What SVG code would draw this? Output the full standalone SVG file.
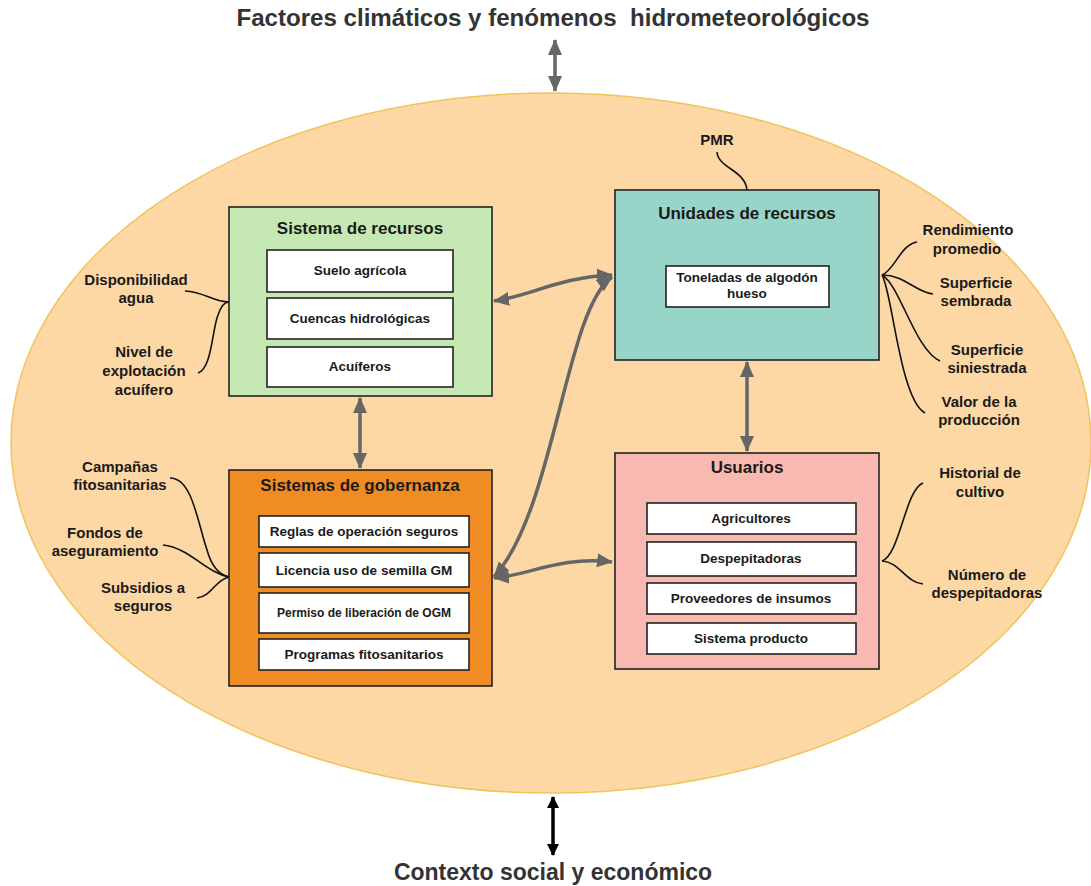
<svg xmlns="http://www.w3.org/2000/svg" width="1091" height="886" viewBox="0 0 1091 886">
<style>
text{font-family:"Liberation Sans",Arial,sans-serif;font-weight:bold;text-anchor:middle;fill:#1a1a1a}
.big{font-size:23px;fill:#333}
.ttl{font-size:17px}
.lbl{font-size:15px}
.it{font-size:13.5px}
.box{stroke:#222;stroke-width:1.6}
.in{fill:#fff;stroke:#222;stroke-width:1.6}
.lead{fill:none;stroke:#111;stroke-width:1.6}
.con{fill:none;stroke:#666;stroke-width:3.5;marker-start:url(#ah);marker-end:url(#ah)}
</style>
<defs>
<marker id="ah" viewBox="0 0 16 14" refX="15" refY="7" markerWidth="16" markerHeight="14" markerUnits="userSpaceOnUse" orient="auto-start-reverse">
<path d="M0,0 L16,7 L0,14 Z" fill="#666"/>
</marker>
<marker id="ahk" viewBox="0 0 12 12" refX="11" refY="6" markerWidth="12" markerHeight="12" markerUnits="userSpaceOnUse" orient="auto-start-reverse">
<path d="M0,0 L12,6 L0,12 Z" fill="#000"/>
</marker>
</defs>
<rect width="1091" height="886" fill="#fff"/>
<ellipse id="context" cx="551" cy="443" rx="540" ry="350" fill="#fdd8a5" stroke="#f0c45c" stroke-width="1.5"/>
<text class="big" x="553" y="26" textLength="633" lengthAdjust="spacingAndGlyphs">Factores climáticos y fenómenos&#160; hidrometeorológicos</text>
<text class="big" x="553" y="880">Contexto social y económico</text>

<g id="connectors">
<path class="con" d="M555,40 L555,91"/>
<path fill="none" stroke="#000" stroke-width="3.5" marker-start="url(#ahk)" marker-end="url(#ahk)" d="M553,797 L553,855"/>
<path class="con" d="M360,398 L360,468"/>
<path class="con" d="M747,362 L747,451"/>
<path class="con" d="M494,301 C530,296 560,277 612,275"/>
<path class="con" d="M612,277 C565,310 555,510 494,577"/>
<path class="con" d="M494,578 C530,575 560,556 612,562"/>
<path class="lead" d="M185,291 C205,292 213,302 229,302"/>
<path class="lead" d="M198,373 C212,368 212,330 218,315 C221,306 225,302 229,302"/>
<path class="lead" d="M717,152 C718,168 745,170 747,190"/>
<path class="lead" d="M882,275 C895,270 900,245 917,242"/>
<path class="lead" d="M882,275 C905,275 915,292 933,294"/>
<path class="lead" d="M882,275 C900,285 915,350 940,361"/>
<path class="lead" d="M882,275 C892,290 900,400 925,413"/>
<path class="lead" d="M882,561 C900,555 905,490 923,483"/>
<path class="lead" d="M882,561 C900,562 905,582 923,584"/>
<path class="lead" d="M170,478 C192,478 197,520 207,550 C212,568 220,575 229,577"/>
<path class="lead" d="M163,545 C190,548 205,572 229,577"/>
<path class="lead" d="M197,598 C212,596 215,580 229,577"/>
</g>

<g id="sistema-recursos">
<rect class="box" x="229" y="207" width="263" height="189" fill="#c6e8b3"/>
<text class="ttl" x="360" y="234">Sistema de recursos</text>
<rect class="in" x="267" y="250" width="186" height="42"/>
<text class="it" x="360" y="275">Suelo agrícola</text>
<rect class="in" x="267" y="298" width="186" height="41"/>
<text class="it" x="360" y="323">Cuencas hidrológicas</text>
<rect class="in" x="267" y="347" width="186" height="40"/>
<text class="it" x="360" y="371">Acuíferos</text>
</g>

<g id="unidades-recursos">
<rect class="box" x="615" y="190" width="264" height="170" fill="#98d5c8"/>
<text class="ttl" x="747" y="219">Unidades de recursos</text>
<rect class="in" x="666" y="266" width="163" height="41"/>
<text class="it" x="747" y="282">Toneladas de algodón</text>
<text class="it" x="747" y="298">hueso</text>
</g>

<g id="sistemas-gobernanza">
<rect class="box" x="229" y="470" width="263" height="216" fill="#ef8c24"/>
<text class="ttl" x="360" y="491">Sistemas de gobernanza</text>
<rect class="in" x="259" y="516" width="210" height="31"/>
<text class="it" x="364" y="536">Reglas de operación seguros</text>
<rect class="in" x="259" y="553" width="210" height="34"/>
<text class="it" x="364" y="575">Licencia uso de semilla GM</text>
<rect class="in" x="259" y="593" width="210" height="40"/>
<text x="364" y="617" style="font-size:12px">Permiso de liberación de OGM</text>
<rect class="in" x="259" y="639" width="210" height="31"/>
<text class="it" x="364" y="659">Programas fitosanitarios</text>
</g>

<g id="usuarios">
<rect class="box" x="615" y="453" width="264" height="216" fill="#f9b8b0"/>
<text class="ttl" x="747" y="473">Usuarios</text>
<rect class="in" x="647" y="503" width="209" height="31"/>
<text class="it" x="751" y="523">Agricultores</text>
<rect class="in" x="647" y="542" width="209" height="34"/>
<text class="it" x="751" y="563">Despepitadoras</text>
<rect class="in" x="647" y="583" width="209" height="31"/>
<text class="it" x="751" y="603">Proveedores de insumos</text>
<rect class="in" x="647" y="623" width="209" height="31"/>
<text class="it" x="751" y="643">Sistema producto</text>
</g>

<g id="labels">
<text class="lbl" x="136" y="285">Disponibilidad</text>
<text class="lbl" x="136" y="303">agua</text>
<text class="lbl" x="144" y="357">Nivel de</text>
<text class="lbl" x="144" y="376">explotación</text>
<text class="lbl" x="144" y="395">acuífero</text>
<text class="lbl" x="120" y="472">Campañas</text>
<text class="lbl" x="120" y="490">fitosanitarias</text>
<text class="lbl" x="105" y="538">Fondos de</text>
<text class="lbl" x="105" y="556">aseguramiento</text>
<text class="lbl" x="143" y="593">Subsidios a</text>
<text class="lbl" x="143" y="611">seguros</text>
<text class="lbl" x="717" y="145">PMR</text>
<text class="lbl" x="968" y="235">Rendimiento</text>
<text class="lbl" x="967" y="254">promedio</text>
<text class="lbl" x="976" y="288">Superficie</text>
<text class="lbl" x="976" y="306">sembrada</text>
<text class="lbl" x="987" y="355">Superficie</text>
<text class="lbl" x="987" y="373">siniestrada</text>
<text class="lbl" x="979" y="407">Valor de la</text>
<text class="lbl" x="979" y="425">producción</text>
<text class="lbl" x="980" y="478">Historial de</text>
<text class="lbl" x="980" y="497">cultivo</text>
<text class="lbl" x="987" y="580">Número de</text>
<text class="lbl" x="987" y="598">despepitadoras</text>
</g>
</svg>
